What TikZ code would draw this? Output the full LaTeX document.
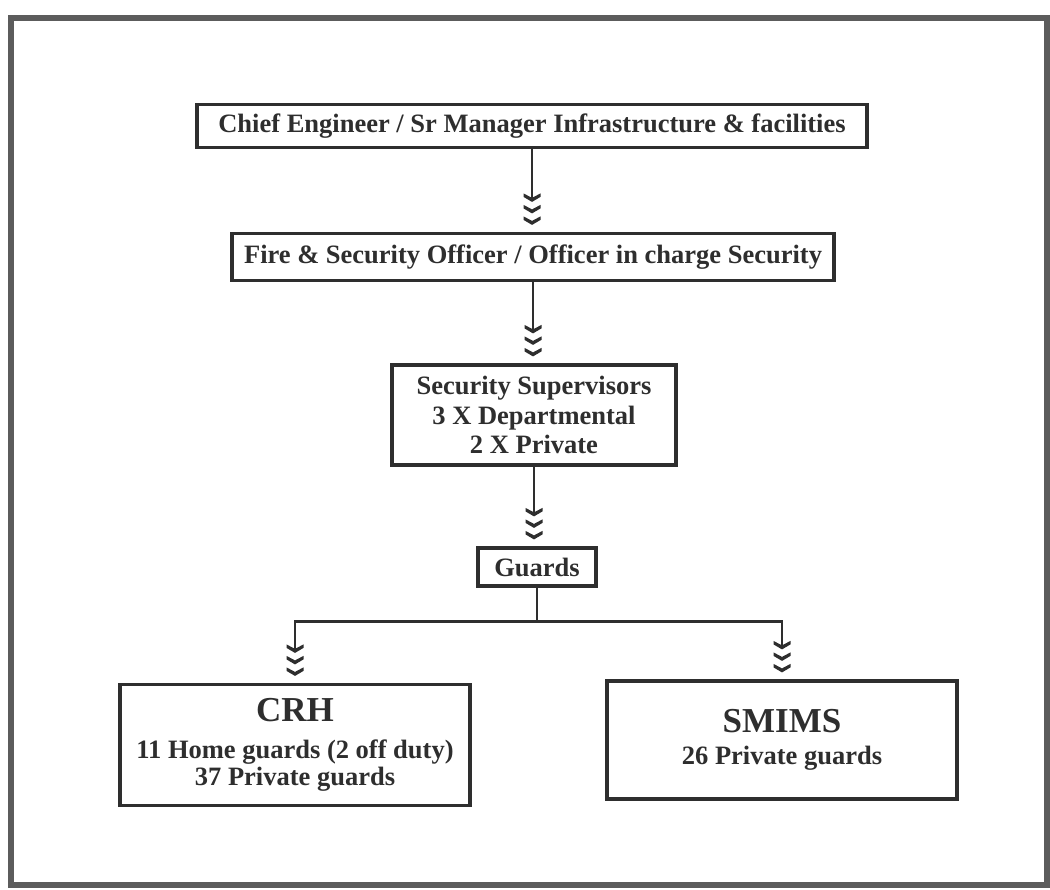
\documentclass[tikz,border=0pt]{standalone}
\usepackage{fontspec}
\setmainfont{Liberation Serif}
\definecolor{ink}{HTML}{2E2E2E}
\definecolor{framec}{HTML}{5C5C5C}
\begin{document}
\begin{tikzpicture}[x=1pt,y=-1pt,
  box/.style={draw=ink, line width=3.2pt, fill=white, inner sep=0pt, text=ink,
    font=\bfseries\fontsize{26.5}{29.5}\selectfont, align=center},
  link/.style={draw=ink, line width=2.8pt, shorten >=26pt},
  chevs/.pic={
    \foreach \k in {0,1,2}
      \fill[ink] (0,-11.5*\k) -- ++(8.5,-5) -- ++(0,-3.5) -- ++(-8.5,4.5)
        -- ++(-8.5,-4.5) -- ++(0,3.5) -- cycle;
  }
]
\useasboundingbox (0,0) rectangle (1050,890);
\fill[white] (0,0) rectangle (1050,890);
\draw[framec, line width=6pt] (10.5,18) rectangle (1047,885);

\node[box, minimum width=670pt, minimum height=43pt] (ce) at (532,126)
  {Chief Engineer / Sr Manager Infrastructure \& facilities};
\node[box, minimum width=602pt, minimum height=47pt] (fs) at (533,257)
  {Fire \& Security Officer / Officer in charge Security};
\node[box, minimum width=284pt, minimum height=100pt] (ss) at (534,415)
  {Security Supervisors\\3 X Departmental\\2 X Private};
\node[box, minimum width=118pt, minimum height=38pt] (gd) at (537,567)
  {Guards};
\node[box, minimum width=350pt, minimum height=121pt,
  font=\bfseries\fontsize{26.5}{27}\selectfont] (crh) at (295,745)
  {{\fontsize{35}{35}\selectfont CRH}\\[10pt]11 Home guards (2 off duty)\\37 Private guards};
\node[box, minimum width=350pt, minimum height=118pt,
  font=\bfseries\fontsize{26.5}{27}\selectfont] (sm) at (782,740)
  {{\fontsize{35}{35}\selectfont SMIMS}\\[5pt]26 Private guards};

% chevron tips, just above each target box
\path (ce.south |- fs.north) ++(0,-7) coordinate (t1);
\path (fs.south |- ss.north) ++(0,-7) coordinate (t2);
\path (ss.south |- gd.north) ++(0,-7) coordinate (t3);
\path (crh.north) ++(0,-7) coordinate (t4);
\path (sm.north) ++(0,-7) coordinate (t5);
\path (gd.south) ++(0,34) coordinate (jn);

\draw[link] (ce.south) -- (t1);
\draw[link] (fs.south) -- (t2);
\draw[link] (ss.south) -- (t3);
\draw[link, shorten >=0pt] (gd.south) -- (jn);
\draw[link] (jn) -| (t4);
\draw[link] (jn) -| (t5);
\foreach \t in {t1,t2,t3,t4,t5} \pic at (\t) {chevs};
\end{tikzpicture}
\end{document}
